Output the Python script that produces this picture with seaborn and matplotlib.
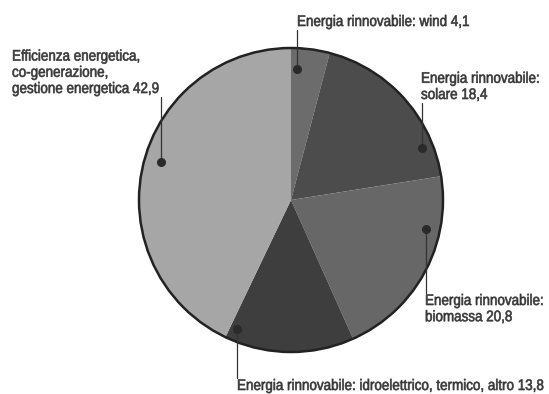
import numpy as np
import matplotlib
matplotlib.use("Agg")
import matplotlib.pyplot as plt
import matplotlib.patheffects as pe
from matplotlib.transforms import Affine2D
import seaborn as sns

# slices, clockwise from 12 o'clock
labels = [
    "Energia rinnovabile: wind 4,1",
    "Energia rinnovabile:\nsolare 18,4",
    "Energia rinnovabile:\nbiomassa 20,8",
    "Energia rinnovabile: idroelettrico, termico, altro 13,8",
    "Efficienza energetica,\nco-generazione,\ngestione energetica 42,9",
]
values = [4.1, 18.4, 20.8, 13.8, 42.9]
colors = ["#6c6c6c", "#4c4c4c", "#676767", "#3e3e3e", "#a6a6a6"]

# where the dot sits: angle clockwise from top (deg), fraction of radius
dot_angle = [2.6, 68.3, 102.0, 202.7, 286.3]
dot_frac = [0.86, 0.93, 0.91, 0.92, 0.89]
# label anchor (left x, end of leader line), in pixel coords
text_x = [297, 421, 425, 237, 12]
text_y = [30, 103, 293, 378, 97]
line_dir = ["up", "up", "down", "down", "up"]


class Squeeze(pe.AbstractPathEffect):
    # narrow the glyphs (condensed look) and thicken them a touch
    def __init__(self, sx, stroke=0.45):
        super().__init__()
        self.sx = sx
        self.stroke = stroke

    def draw_path(self, renderer, gc, tpath, affine, rgbFace=None):
        tr = Affine2D().scale(self.sx, 1) + affine
        gc0 = renderer.new_gc()
        gc0.copy_properties(gc)
        gc0.set_linewidth(self.stroke)
        if rgbFace is not None:
            gc0.set_foreground(rgbFace)
        renderer.draw_path(gc0, tpath, tr, rgbFace)
        gc0.restore()


sns.set_theme(style="white")
plt.rcParams["font.family"] = ["Liberation Sans", "DejaVu Sans"]

W, H = 549, 394
fig = plt.figure(figsize=(W / 100, H / 100), dpi=100)
ax = fig.add_axes([0, 0, 1, 1])

cx, cy, r = 291, 200, 152
# y axis is inverted below, so counterclock=True runs clockwise on screen
ax.pie(values, colors=colors, startangle=-90, counterclock=True,
       center=(cx, cy), radius=r, frame=True,
       wedgeprops=dict(linewidth=0))
ax.add_patch(plt.Circle((cx, cy), r, fill=False, lw=1.8, ec="#222222"))
ax.set_xlim(0, W)
ax.set_ylim(H, 0)
ax.set_aspect("equal")
ax.axis("off")

texts = []
for lab, a, f, tx, ty, d in zip(labels, dot_angle, dot_frac, text_x, text_y, line_dir):
    th = np.deg2rad(a)
    px = cx + f * r * np.sin(th)
    py = cy - f * r * np.cos(th)
    ax.plot([px, px], [py, ty], color="#333333", lw=0.9)
    ax.plot(px, py, "o", color="#2a2a2a", ms=5.5)
    va = "bottom" if d == "up" else "top"
    t = ax.text(tx, ty - 1 if d == "up" else ty + 1, lab, ha="left", va=va,
                fontsize=11, color="#383838", linespacing=1.2)
    texts.append(t)

# fit the wind label to its width in the reference (~172 px)
rend = fig.canvas.get_renderer()
sx = 172 / texts[0].get_window_extent(rend).width
for t in texts:
    t.set_path_effects([Squeeze(sx)])

fig.savefig("out.png", dpi=100)
